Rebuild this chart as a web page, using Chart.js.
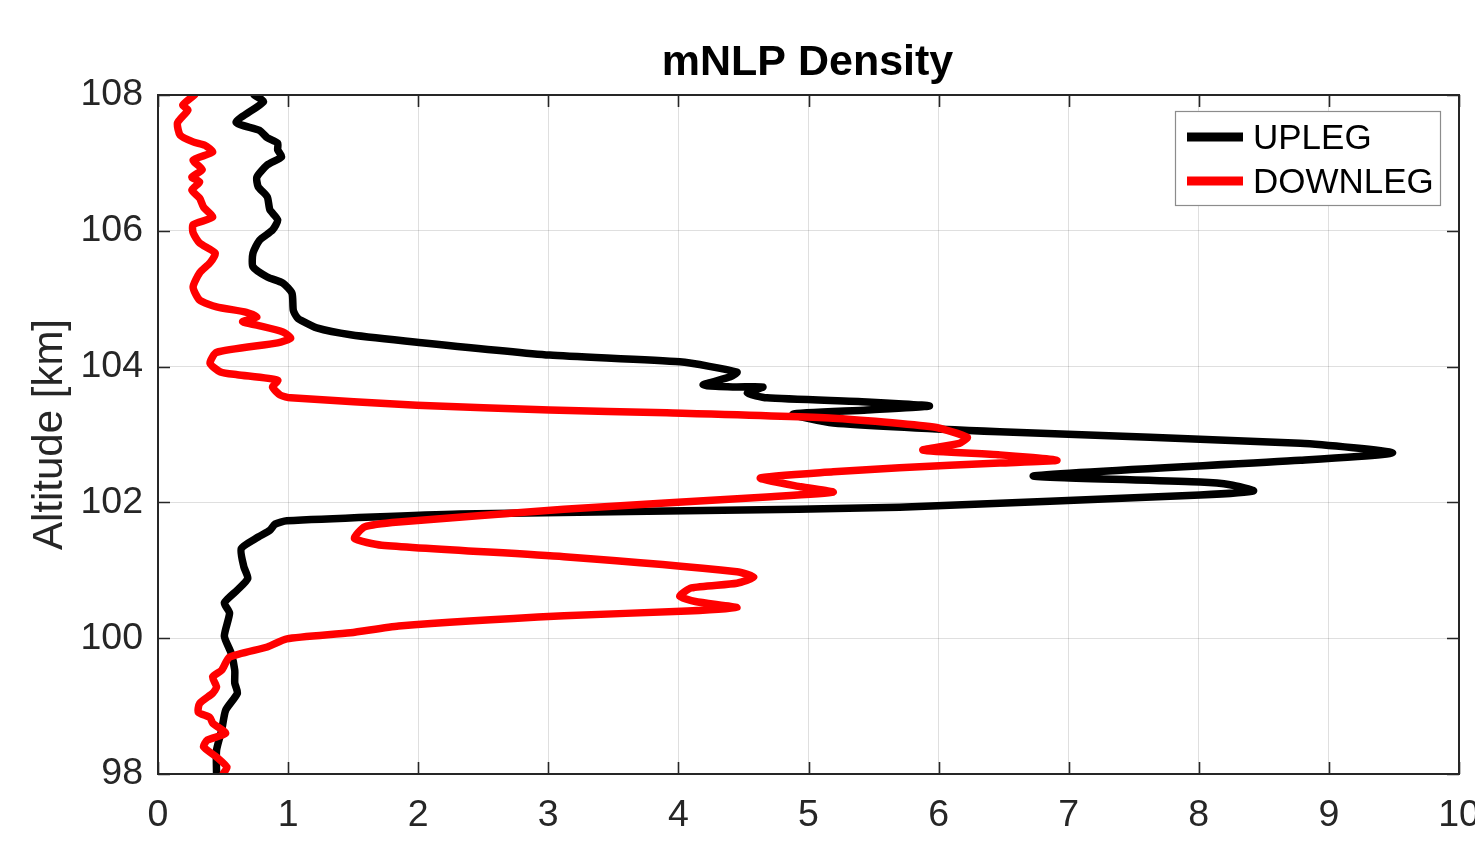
<!DOCTYPE html>
<html>
<head>
<meta charset="utf-8">
<title>mNLP Density</title>
<script src="https://cdn.jsdelivr.net/npm/chart.js@4.4.1/dist/chart.umd.min.js"></script>
<style>
  html, body { margin: 0; padding: 0; background: #ffffff; overflow: hidden; }
  canvas { display: block; }
</style>
</head>
<body>
<canvas id="density" width="1475" height="848"></canvas>
<script>
// Upleg profile: altitude [km] and normalised density, top to bottom
const upAltitude = [
  108.00, 107.90, 107.60, 107.48, 107.37, 107.29, 107.19, 107.09, 106.97, 106.79,
  106.65, 106.50, 106.31, 106.16, 106.01, 105.86, 105.67, 105.47, 105.32, 105.23,
  105.08, 104.83, 104.72, 104.69, 104.57, 104.47, 104.36, 104.17, 104.07, 103.92,
  103.85, 103.73, 103.70, 103.70, 103.61, 103.54, 103.48, 103.42, 103.36, 103.30,
  103.17, 103.04, 102.87, 102.73, 102.62, 102.39, 102.30, 102.26, 102.17, 102.11,
  101.93, 101.90, 101.83, 101.73, 101.68, 101.59, 101.49, 101.32, 101.05, 100.88,
  100.71, 100.52, 100.37, 100.03, 99.79, 99.53, 99.34, 99.19, 98.94, 98.65,
  98.35, 98.01
];
const upDensity = [
  0.74, 0.81, 0.60, 0.78, 0.84, 0.92, 0.92, 0.95, 0.84, 0.76,
  0.77, 0.84, 0.86, 0.92, 0.88, 0.78, 0.73, 0.73, 0.84, 0.96,
  1.03, 1.04, 1.07, 1.09, 1.22, 1.48, 1.99, 3.01, 4.01, 4.45,
  4.40, 4.19, 4.42, 4.65, 4.53, 4.68, 5.45, 5.93, 5.45, 4.88,
  5.19, 6.47, 8.78, 9.49, 8.78, 6.73, 8.01, 8.24, 8.42, 8.01,
  5.70, 4.92, 2.32, 0.99, 0.90, 0.86, 0.77, 0.64, 0.66, 0.69,
  0.61, 0.51, 0.55, 0.51, 0.56, 0.59, 0.59, 0.61, 0.52, 0.49,
  0.45, 0.45
];

// Downleg profile: altitude [km] and normalised density, top to bottom
const downAltitude = [
  108.00, 107.85, 107.78, 107.59, 107.41, 107.31, 107.26, 107.16, 107.04, 106.90,
  106.79, 106.72, 106.60, 106.48, 106.35, 106.20, 106.09, 105.97, 105.82, 105.67,
  105.53, 105.38, 105.17, 104.98, 104.88, 104.80, 104.73, 104.66, 104.61, 104.51,
  104.42, 104.35, 104.21, 104.05, 103.92, 103.88, 103.80, 103.70, 103.58, 103.54,
  103.43, 103.36, 103.32, 103.24, 103.11, 102.96, 102.87, 102.77, 102.70, 102.62,
  102.58, 102.51, 102.45, 102.36, 102.23, 102.15, 102.08, 101.90, 101.71, 101.64,
  101.47, 101.37, 101.20, 100.98, 100.90, 100.81, 100.74, 100.62, 100.54, 100.45,
  100.40, 100.33, 100.18, 100.08, 99.99, 99.87, 99.72, 99.53, 99.43, 99.28,
  99.19, 99.04, 98.91, 98.83, 98.75, 98.60, 98.50, 98.40, 98.25, 98.10,
  98.00
];
const downDensity = [
  0.28, 0.19, 0.23, 0.15, 0.17, 0.27, 0.36, 0.42, 0.27, 0.34,
  0.26, 0.32, 0.26, 0.32, 0.35, 0.42, 0.27, 0.27, 0.32, 0.44,
  0.40, 0.32, 0.27, 0.32, 0.45, 0.68, 0.76, 0.65, 0.76, 0.96,
  1.02, 0.92, 0.45, 0.40, 0.48, 0.61, 0.92, 0.88, 0.94, 1.02,
  1.99, 3.01, 3.91, 5.19, 5.96, 6.22, 6.16, 5.88, 6.47, 6.91,
  6.47, 5.70, 5.19, 4.63, 4.94, 5.19, 4.68, 3.12, 1.85, 1.59,
  1.51, 1.72, 3.12, 4.45, 4.58, 4.45, 4.10, 4.01, 4.13, 4.45,
  4.07, 3.12, 1.85, 1.48, 0.99, 0.84, 0.55, 0.49, 0.42, 0.45,
  0.42, 0.32, 0.31, 0.40, 0.42, 0.52, 0.38, 0.35, 0.45, 0.53,
  0.50
];

// Axis ranges and tick spacing
const densityRange = [0, 10];
const densityStep = 1;
const altitudeRange = [98, 108];
const altitudeStep = 2;

const seriesNames = ['UPLEG', 'DOWNLEG'];
const seriesColors = ['#000000', '#ff0000'];

const FONT = '"Liberation Sans", Arial, Helvetica, sans-serif';
const AXIS_INK = '#262626';

function toPoints(xs, ys) {
  return xs.map((x, i) => ({ x: x, y: ys[i] }));
}

// Boxed axes with inward ticks, title and legend
const decorations = {
  id: 'decorations',
  afterDatasetsDraw(chart) {
    const { ctx, chartArea: a, scales } = chart;
    const xs = scales.x, ys = scales.y;
    const tickLen = 12;
    ctx.save();
    ctx.strokeStyle = AXIS_INK;
    ctx.lineWidth = 1.6;
    ctx.beginPath();
    xs.ticks.forEach(t => {
      const px = Math.round(xs.getPixelForValue(t.value)) + 0.5;
      ctx.moveTo(px, a.bottom); ctx.lineTo(px, a.bottom - tickLen);
      ctx.moveTo(px, a.top); ctx.lineTo(px, a.top + tickLen);
    });
    ys.ticks.forEach(t => {
      const py = Math.round(ys.getPixelForValue(t.value)) + 0.5;
      ctx.moveTo(a.left, py); ctx.lineTo(a.left + tickLen, py);
      ctx.moveTo(a.right, py); ctx.lineTo(a.right - tickLen, py);
    });
    ctx.stroke();
    ctx.lineWidth = 2;
    ctx.strokeRect(a.left, a.top, a.right - a.left, a.bottom - a.top);

    // title
    ctx.fillStyle = '#000000';
    ctx.font = 'bold 43px ' + FONT;
    ctx.textAlign = 'center';
    ctx.textBaseline = 'alphabetic';
    ctx.fillText('mNLP Density', (a.left + a.right) / 2 - 1, 75);

    // legend
    const lx = 1175, ly = 111, lw = 265, lh = 94;
    ctx.fillStyle = '#ffffff';
    ctx.fillRect(lx, ly, lw, lh);
    ctx.strokeStyle = '#8c8c8c';
    ctx.lineWidth = 1.2;
    ctx.strokeRect(lx + 0.5, ly + 0.5, lw, lh);
    ctx.font = '35px ' + FONT;
    ctx.textAlign = 'left';
    ctx.textBaseline = 'middle';
    chart.data.datasets.forEach((ds, i) => {
      const cy = 137 + i * 44;
      ctx.strokeStyle = ds.borderColor;
      ctx.lineWidth = 9;
      ctx.lineCap = 'butt';
      ctx.beginPath();
      ctx.moveTo(1187, cy); ctx.lineTo(1243, cy);
      ctx.stroke();
      ctx.fillStyle = '#000000';
      ctx.fillText(ds.label, 1253, cy + 2);
    });
    ctx.restore();
  }
};

new Chart(document.getElementById('density'), {
  type: 'scatter',
  data: {
    datasets: [
      {
        label: seriesNames[0],
        data: toPoints(upDensity, upAltitude),
        borderColor: seriesColors[0],
        backgroundColor: seriesColors[0],
        order: 2
      },
      {
        label: seriesNames[1],
        data: toPoints(downDensity, downAltitude),
        borderColor: seriesColors[1],
        backgroundColor: seriesColors[1],
        order: 1
      }
    ]
  },
  options: {
    responsive: false,
    animation: false,
    devicePixelRatio: 1,
    layout: { padding: { top: 95, right: 16, left: 0, bottom: 0 } },
    elements: {
      point: { radius: 0, hoverRadius: 0 },
      line: { borderWidth: 7.5, tension: 0.2, borderJoinStyle: 'round', borderCapStyle: 'round', fill: false }
    },
    datasets: { scatter: { showLine: true } },
    plugins: {
      legend: { display: false },
      title: { display: false },
      tooltip: { enabled: false }
    },
    scales: {
      x: {
        type: 'linear',
        min: densityRange[0],
        max: densityRange[1],
        border: { display: false },
        grid: { color: 'rgba(38,38,38,0.15)', lineWidth: 1, drawTicks: false },
        ticks: {
          stepSize: densityStep,
          autoSkip: false,
          maxRotation: 0,
          padding: 19,
          color: AXIS_INK,
          font: { family: FONT, size: 37.5 }
        },
        afterFit(s) { s.height = 74; s.paddingLeft = 0; s.paddingRight = 0; }
      },
      y: {
        type: 'linear',
        min: altitudeRange[0],
        max: altitudeRange[1],
        border: { display: false },
        grid: { color: 'rgba(38,38,38,0.15)', lineWidth: 1, drawTicks: false },
        ticks: {
          stepSize: altitudeStep,
          autoSkip: false,
          padding: 15,
          color: AXIS_INK,
          font: { family: FONT, size: 37.5 }
        },
        title: {
          display: true,
          text: 'Altitude [km]',
          color: AXIS_INK,
          font: { family: FONT, size: 42 },
          padding: { top: 25, bottom: 0 }
        },
        afterFit(s) { s.width = 158; s.paddingTop = 0; s.paddingBottom = 0; }
      }
    }
  },
  plugins: [decorations]
});
</script>
</body>
</html>
